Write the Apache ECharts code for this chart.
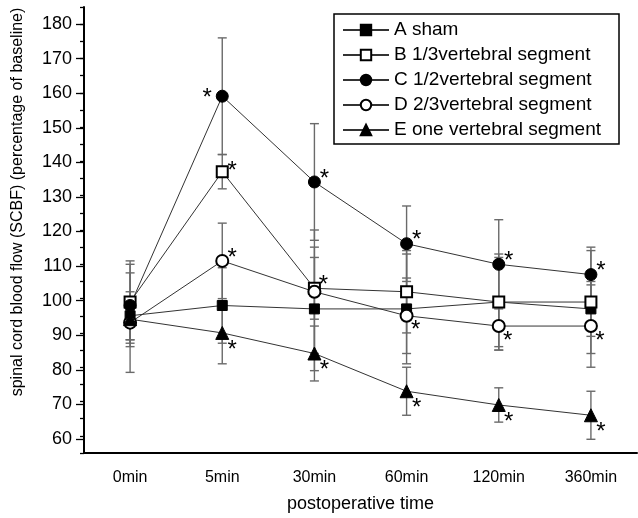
<!DOCTYPE html>
<html>
<head>
<meta charset="utf-8">
<script src="https://cdn.jsdelivr.net/npm/echarts@6/dist/echarts.min.js"></script>
<style>
html, body { margin: 0; padding: 0; background: #fff; }
#main { width: 638px; height: 518px; }
</style>
</head>
<body>
<div id="main"></div>
<script>
// categories
var times = ['0min', '5min', '30min', '60min', '120min', '360min'];
var names = ['A sham', 'B 1/3vertebral segment', 'C 1/2vertebral segment', 'D 2/3vertebral segment', 'E one vertebral segment'];

// means (% of baseline)
var valA = [95, 98, 97, 97, 99, 97];
var valB = [99, 137, 103, 102, 99, 99];
var valC = [98, 159, 134, 116, 110, 107];
var valD = [93, 111, 102, 95, 92, 92];
var valE = [94, 90, 84, 73, 69, 66];

// error bar half lengths
var sdA = [7, 11, 18, 16, 13, 8];
var sdB = [12, 5, 9, 12, 14, 15];
var sdC = [12, 17, 17, 11, 13, 8];
var sdD = [14.5, 11, 18, 11, 7, 12];
var sdE = [6, 9, 8, 7, 5, 7];

// significance marks (*)
var sigA = [0, 0, 0, 0, 0, 0];
var sigB = [0, 1, 1, 0, 0, 0];
var sigC = [0, 1, 1, 1, 1, 1];
var sigD = [0, 1, 0, 1, 1, 1];
var sigE = [0, 1, 1, 1, 1, 1];

// y tick values
var yTicksMin = 60, yTicksMax = 180;

var myChart = echarts.init(document.getElementById('main'));

// where the star sits next to the marker
function starOffset(key, i) {
    if (key == 'C') return i == 1 ? [-15, 2] : [10, -3];
    if (key == 'B') return i == 2 ? [9, -3] : [10, 0];
    if (key == 'D') return i == 1 ? [10, -3] : [9, 15];
    return [10, 17];
}

function lineSeries(name, key, vals, sig, symbol, size) {
    return {
        name: name,
        type: 'line',
        xAxisIndex: 0,
        yAxisIndex: 0,
        z: 3,
        symbol: symbol,
        symbolSize: size,
        showAllSymbol: true,
        lineStyle: { color: '#333', width: 1 },
        itemStyle: { color: '#000', borderColor: '#000', borderWidth: 1 },
        emphasis: { disabled: true },
        label: {
            show: true,
            position: 'inside',
            fontSize: 24,
            color: '#000',
            formatter: function (p) { return sig[p.dataIndex] ? '*' : ''; }
        },
        data: vals.map(function (v, i) {
            return { value: v, label: { offset: starOffset(key, i) } };
        })
    };
}

function errSeries(vals, sd) {
    return {
        name: 'err',
        type: 'custom',
        xAxisIndex: 0,
        yAxisIndex: 0,
        z: 2,
        silent: true,
        encode: { x: 0, y: [1, 2] },
        renderItem: function (params, api) {
            var lo = api.coord([api.value(0), api.value(1)]);
            var hi = api.coord([api.value(0), api.value(2)]);
            var w = 4.5;
            var st = { stroke: '#6a6a6a', lineWidth: 1.4 };
            return {
                type: 'group',
                children: [
                    { type: 'line', shape: { x1: lo[0], y1: lo[1], x2: hi[0], y2: hi[1] }, style: st },
                    { type: 'line', shape: { x1: lo[0] - w, y1: lo[1], x2: lo[0] + w, y2: lo[1] }, style: st },
                    { type: 'line', shape: { x1: hi[0] - w, y1: hi[1], x2: hi[0] + w, y2: hi[1] }, style: st }
                ]
            };
        },
        data: vals.map(function (v, i) { return [i, v - sd[i], v + sd[i]]; })
    };
}

var option = {
    animation: false,
    backgroundColor: '#fff',
    textStyle: { fontFamily: 'Liberation Sans, Arial, sans-serif' },
    grid: [
        { left: 84, right: 1, top: 7, bottom: 61 },
        { left: 84, right: 1, top: 24, bottom: 79 }
    ],
    legend: {
        orient: 'vertical',
        left: 334,
        top: 14,
        padding: [6, 18, 4, 8],
        itemWidth: 46,
        itemHeight: 13,
        itemGap: 5,
        borderColor: '#000',
        borderWidth: 1.5,
        borderRadius: 0,
        selectedMode: false,
        textStyle: { fontSize: 19, color: '#000', lineHeight: 20 },
        data: names
    },
    xAxis: [{
        type: 'category',
        gridIndex: 0,
        data: times,
        boundaryGap: true,
        name: 'postoperative time',
        nameLocation: 'middle',
        nameGap: 42,
        nameTextStyle: { fontSize: 18, color: '#000' },
        axisLine: { lineStyle: { color: '#000', width: 2 } },
        axisTick: { alignWithLabel: true, length: 8, lineStyle: { color: '#000', width: 1.3 } },
        axisLabel: { fontSize: 16, color: '#000', margin: 17 },
        splitLine: { show: false }
    }, {
        type: 'category',
        gridIndex: 0,
        data: times,
        boundaryGap: true,
        axisLine: { show: false },
        axisTick: { length: 4, lineStyle: { color: '#000', width: 1.3 } },
        axisLabel: { show: false },
        splitLine: { show: false }
    }, {
        type: 'category',
        gridIndex: 1,
        data: times,
        show: false
    }],
    yAxis: [{
        type: 'value',
        gridIndex: 0,
        min: 55,
        max: 185,
        interval: 5,
        axisLine: { show: true, lineStyle: { color: '#000', width: 2 } },
        axisTick: { show: true, length: 4, lineStyle: { color: '#000', width: 1.3 } },
        axisLabel: { show: false },
        splitLine: { show: false }
    }, {
        type: 'value',
        gridIndex: 1,
        min: yTicksMin,
        max: yTicksMax,
        interval: 10,
        axisLine: { show: false },
        axisTick: { show: true, length: 8, lineStyle: { color: '#000', width: 1.3 } },
        axisLabel: { fontSize: 18, color: '#000', margin: 12 },
        splitLine: { show: false }
    }],
    graphic: [{
        type: 'text',
        x: 18,
        y: 202,
        rotation: Math.PI / 2,
        style: {
            text: 'spinal cord blood flow (SCBF) (percentage of baseline)',
            fontSize: 16,
            fontFamily: 'Liberation Sans, Arial, sans-serif',
            fill: '#000',
            align: 'center',
            verticalAlign: 'middle'
        }
    }],
    series: [
        errSeries(valA, sdA),
        errSeries(valB, sdB),
        errSeries(valC, sdC),
        errSeries(valD, sdD),
        errSeries(valE, sdE),
        lineSeries(names[0], 'A', valA, sigA, 'rect', 10),
        lineSeries(names[1], 'B', valB, sigB, 'emptyRect', 11),
        lineSeries(names[2], 'C', valC, sigC, 'circle', 12),
        lineSeries(names[3], 'D', valD, sigD, 'emptyCircle', 12),
        lineSeries(names[4], 'E', valE, sigE, 'triangle', 13)
    ]
};
myChart.setOption(option);
</script>
</body>
</html>
